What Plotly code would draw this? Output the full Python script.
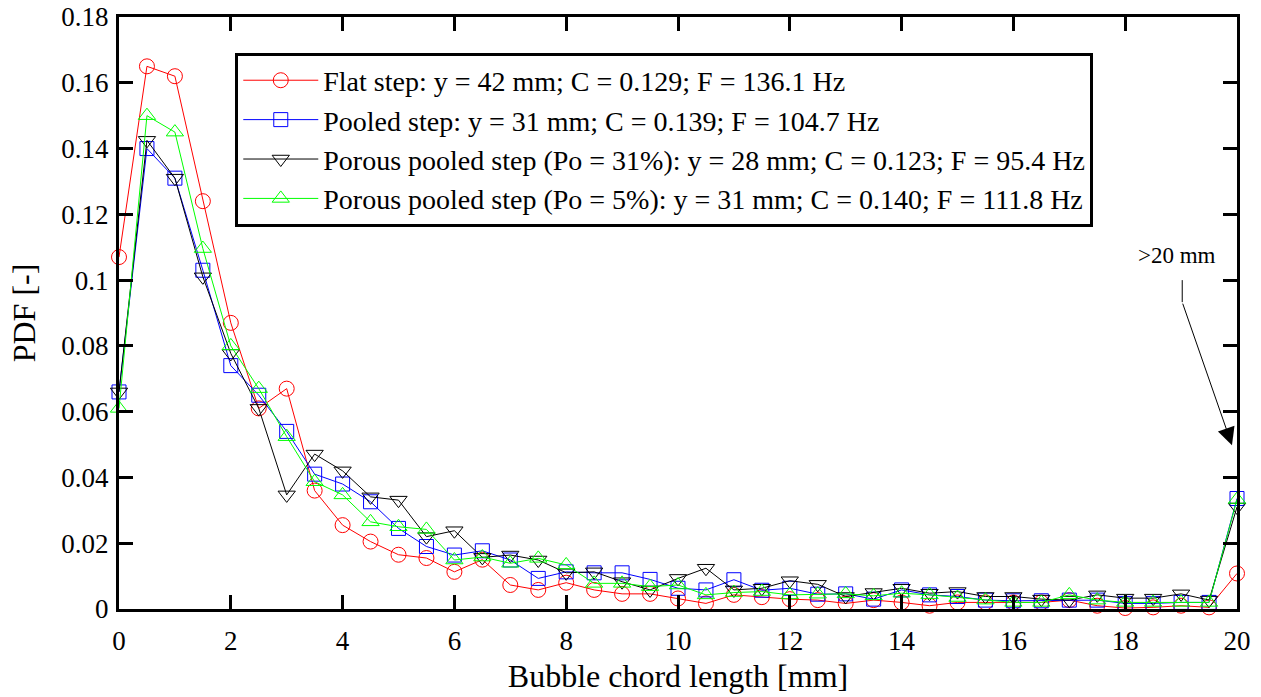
import plotly.graph_objects as go

chord_mm = [0, 0.5, 1, 1.5, 2, 2.5, 3, 3.5, 4, 4.5, 5, 5.5, 6, 6.5, 7, 7.5, 8, 8.5, 9, 9.5,
            10, 10.5, 11, 11.5, 12, 12.5, 13, 13.5, 14, 14.5, 15, 15.5, 16, 16.5, 17, 17.5,
            18, 18.5, 19, 19.5, 20]

flat_step = [0.107, 0.165, 0.162, 0.124, 0.087, 0.061, 0.067, 0.036, 0.0255, 0.0205,
             0.0165, 0.0155, 0.0113, 0.015, 0.0073, 0.0058, 0.008, 0.0058, 0.0046, 0.0046,
             0.0032, 0.0017, 0.0043, 0.0036, 0.003, 0.0027, 0.0017, 0.0027, 0.002, 0.001,
             0.002, 0.002, 0.002, 0.002, 0.0027, 0.001, 0.0003, 0.0005, 0.001, 0.0005, 0.0108]

pooled_step = [0.066, 0.140, 0.131, 0.103, 0.074, 0.065, 0.054, 0.041, 0.038, 0.0326,
               0.0245, 0.019, 0.0164, 0.0177, 0.0149, 0.0093, 0.0113, 0.011, 0.011, 0.009,
               0.0063, 0.0058, 0.0089, 0.0057, 0.0063, 0.0045, 0.0046, 0.003, 0.0058, 0.0043,
               0.0038, 0.0027, 0.0025, 0.0025, 0.0027, 0.0027, 0.0017, 0.0017, 0.002, 0.002, 0.0336]

porous_31 = [0.066, 0.1425, 0.131, 0.101, 0.0777, 0.061, 0.0347, 0.0471, 0.042, 0.0341,
             0.0331, 0.022, 0.0238, 0.0157, 0.0164, 0.0149, 0.011, 0.0113, 0.0083, 0.0058,
             0.0093, 0.0124, 0.0058, 0.0063, 0.0086, 0.0075, 0.0038, 0.005, 0.0063, 0.0048,
             0.0053, 0.0038, 0.0038, 0.003, 0.0027, 0.0043, 0.0033, 0.0033, 0.0046, 0.0027, 0.031]

porous_5 = [0.061, 0.150, 0.145, 0.1096, 0.080, 0.067, 0.0524, 0.0387, 0.0347, 0.0265,
            0.025, 0.0242, 0.0149, 0.0158, 0.0139, 0.0154, 0.0134, 0.0078, 0.0078, 0.0068,
            0.0073, 0.0043, 0.005, 0.0053, 0.0043, 0.0045, 0.0046, 0.004, 0.0048, 0.0043,
            0.0035, 0.0027, 0.002, 0.002, 0.0043, 0.0027, 0.002, 0.002, 0.002, 0.002, 0.0333]

series_names = [
    "Flat step: y = 42 mm; C = 0.129; F = 136.1 Hz",
    "Pooled step: y = 31 mm; C = 0.139; F = 104.7 Hz",
    "Porous pooled step (Po = 31%): y = 28 mm; C = 0.123; F = 95.4 Hz",
    "Porous pooled step (Po = 5%): y = 31 mm; C = 0.140; F = 111.8 Hz",
]
series_values = [flat_step, pooled_step, porous_31, porous_5]
series_colors = ["#FF0000", "#0000FF", "#000000", "#00FF00"]
series_symbols = ["circle-open", "square-open", "triangle-down-open", "triangle-up-open"]
series_sizes = [15, 14, 15, 15]

FONT = "Liberation Serif"

fig = go.Figure()
for i, (name, vals, col, sym, sz) in enumerate(zip(series_names, series_values, series_colors,
                                                   series_symbols, series_sizes)):
    fig.add_trace(go.Scatter(
        x=chord_mm, y=vals, name=name, mode="lines+markers",
        line=dict(color=col, width=1),
        marker=dict(symbol=sym, size=sz, color=col, line=dict(color=col, width=1)),
        cliponaxis=False, legendgroup=f"g{i}",
    ))

axis_common = dict(
    showline=True, linecolor="black", linewidth=3, mirror="ticks",
    ticks="inside", ticklen=14, tickwidth=2.5, tickcolor="black",
    showgrid=False, zeroline=False, automargin=False,
    tickfont=dict(family=FONT, size=27, color="black"),
)

fig.update_xaxes(range=[0, 20], dtick=2, tick0=0, ticklabelstandoff=6,
                 title=dict(text="Bubble chord length [mm]", font=dict(family=FONT, size=32, color="black"),
                            standoff=10),
                 **axis_common)
fig.update_yaxes(range=[0, 0.18], dtick=0.02, tick0=0, ticklabelstandoff=2,
                 title=dict(text="PDF [-]", font=dict(family=FONT, size=32, color="black"),
                            standoff=17),
                 **axis_common)

# annotation ">20 mm" with bent arrow
fig.add_shape(type="line", xref="x", yref="y", x0=19.02, y0=0.1, x1=19.02, y1=0.0933,
              line=dict(color="black", width=1))
fig.add_annotation(x=19.91, y=0.0498, ax=19.02, ay=0.0933, axref="x", ayref="y",
                   xref="x", yref="y", text="", showarrow=True,
                   arrowhead=2, arrowsize=3.5, arrowwidth=1, arrowcolor="black")
fig.add_annotation(x=18.93, y=0.1076, xref="x", yref="y", text=">20 mm", showarrow=False,
                   font=dict(family=FONT, size=23, color="black"))

fig.update_layout(
    width=1261, height=697,
    margin=dict(l=119, r=24, t=17, b=88),
    paper_bgcolor="white", plot_bgcolor="white",
    font=dict(family=FONT, color="black"),
    showlegend=True,
    legend=dict(x=0.104, y=0.94, xanchor="left", yanchor="top",
                bgcolor="white", bordercolor="black", borderwidth=3,
                font=dict(family=FONT, size=28, color="black"),
                tracegroupgap=0, itemwidth=75),
)

fig.write_html("out.html")
